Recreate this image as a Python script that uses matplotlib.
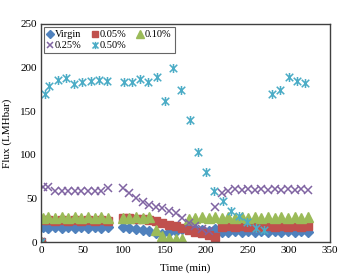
import matplotlib
matplotlib.use("Agg")
import matplotlib.pyplot as plt
from matplotlib.path import Path

plt.rcParams['font.family'] = ['Liberation Serif', 'DejaVu Serif']

# time grids (min)
t_first = [0, 2, 9, 17, 25, 33, 41, 49, 57, 65, 73, 81]
t_second = [99, 107, 115, 123, 131, 139, 147, 155, 163, 171, 179, 187, 195, 203, 211,
            219, 227, 235, 243, 251, 259, 267, 275, 283, 291, 299, 307, 315, 323]
t_cyan_first = [0, 5, 10, 20, 30, 40, 50, 60, 70, 80]
t_cyan_second = [100, 110, 120, 130, 140, 150, 160, 170, 180, 190, 200, 210, 220, 230,
                 240, 250, 260, 270, 280, 290, 300, 310, 320]

# flux (LMH/bar)
virgin = [0, 17, 16, 17, 16, 17, 16, 17, 16, 17, 16, 17] + \
         [17, 16, 15, 14, 13, 10, 9, 11, 13, 15, 16, 15, 14, 13, 15, 12, 12, 13, 12, 13,
          12, 13, 12, 13, 12, 13, 12, 13, 12]
p005 = [0, 25, 25, 24, 25, 24, 25, 24, 25, 24, 25, 24] + \
       [27, 27, 26, 26, 25, 24, 22, 20, 18, 16, 14, 12, 10, 8, 6, 17, 18, 17, 18, 17,
        18, 17, 18, 17, 18, 17, 18, 17, 18]
p010 = [0, 28, 29, 28, 29, 28, 29, 28, 29, 28, 29, 28] + \
       [28, 28, 29, 28, 29, 14, 7, 5, 4, 4, 26, 28, 29, 28, 29, 28, 29, 28, 29, 28,
        29, 28, 29, 28, 29, 28, 29, 28, 29]
p025 = [0, 63, 63, 59, 58, 59, 58, 59, 58, 59, 58, 62] + \
       [62, 56, 50, 46, 42, 40, 39, 36, 33, 28, 22, 18, 15, 13, 40, 56, 58, 61, 60, 61,
        60, 61, 60, 61, 60, 61, 60, 61, 60]
p050 = [0, 170, 179, 186, 188, 181, 183, 185, 186, 185] + \
       [183, 183, 187, 183, 189, 162, 200, 174, 140, 103, 80, 59, 47, 36, 30, 23, 16, 14,
        170, 174, 189, 184, 182]

t_all = t_first + t_second
t_cyan = t_cyan_first + t_cyan_second

# excel style star marker (x with a vertical bar)
star = Path([(-1, -1), (1, 1), (-1, 1), (1, -1), (0, -1.2), (0, 1.2)],
            [Path.MOVETO, Path.LINETO, Path.MOVETO, Path.LINETO, Path.MOVETO, Path.LINETO])

fig = plt.figure(figsize=(3.42, 2.75), dpi=100)
ax = fig.add_axes([0.12, 0.12, 0.845, 0.793])

h1, = ax.plot(t_all, virgin, ls='none', marker='D', ms=5, color='#4F81BD', label='Virgin')
h2, = ax.plot(t_all, p005, ls='none', marker='s', ms=5.5, color='#C0504D', label='0.05%')
h3, = ax.plot(t_all, p010, ls='none', marker='^', ms=6.5, color='#9BBB59', label='0.10%')
h4, = ax.plot(t_all, p025, ls='none', marker='x', ms=5.5, mew=1.1, color='#8064A2', label='0.25%')
h5, = ax.plot(t_cyan, p050, ls='none', marker=star, ms=6.5, mew=1.1, color='#4BACC6', label='0.50%')

ax.set_xlim(0, 350)
ax.set_ylim(0, 250)
ax.set_xticks(range(0, 351, 50))
ax.set_yticks(range(0, 251, 50))
ax.tick_params(labelsize=8, length=0, pad=3)
for s in ax.spines.values():
    s.set_color('#404040')
    s.set_linewidth(1.0)

ax.set_xlabel('Time (min)', fontsize=8, labelpad=6)
ax.set_ylabel('Flux (LMHbar)', fontsize=8, labelpad=6)

leg = ax.legend([h1, h4, h2, h5, h3], ['Virgin', '0.25%', '0.05%', '0.50%', '0.10%'],
                ncol=3, loc='upper left', fontsize=7.5, frameon=True, fancybox=False,
                handlelength=0.6, handletextpad=0.15, columnspacing=1.0,
                labelspacing=0.15, borderpad=0.3, borderaxespad=0.3,
                markerscale=0.8)
leg.get_frame().set_edgecolor('#404040')
leg.get_frame().set_linewidth(0.8)

fig.savefig('out.png', dpi=100)
